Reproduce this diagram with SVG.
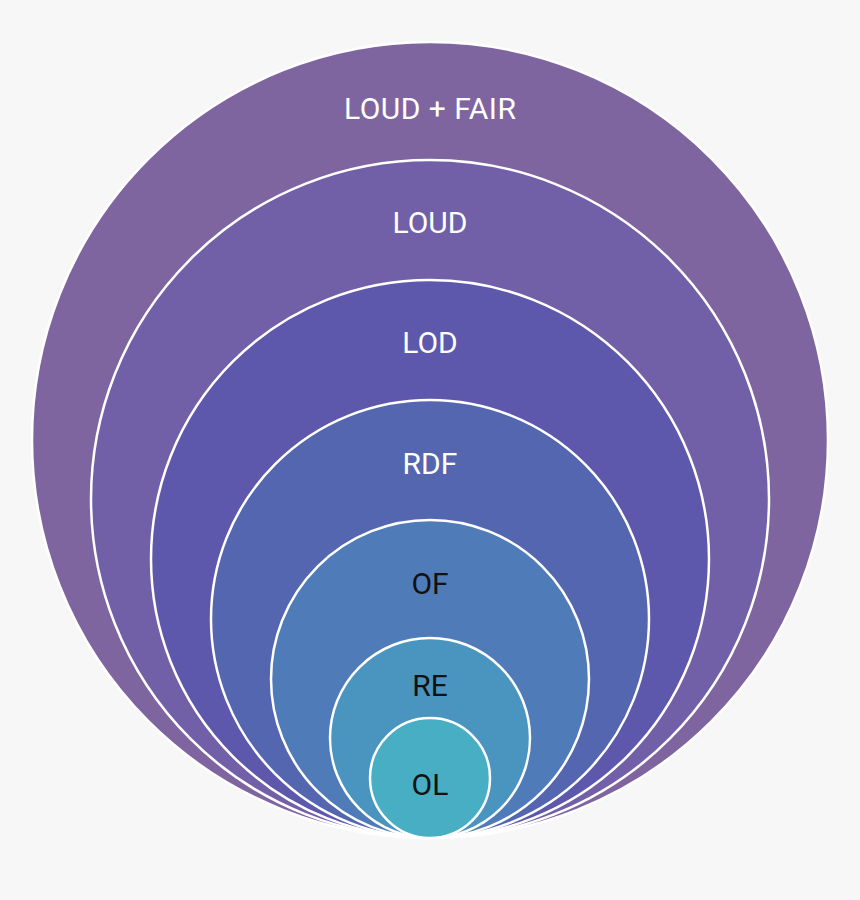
<svg xmlns="http://www.w3.org/2000/svg" width="860" height="900" viewBox="0 0 860 900">
<style>
circle{stroke:#fff;stroke-width:2.5}
text{font-family:Roboto,"Liberation Sans",sans-serif;font-size:30px;text-anchor:middle;dominant-baseline:central}
.w{fill:#fff}.k{fill:#111}
</style>
<rect width="860" height="900" fill="#f7f7f7"/>
<g id="n1"><circle cx="430" cy="440" r="398" fill="#7f65a0"/><text class="w" x="430" y="108" textLength="172">LOUD + FAIR</text></g>
<g id="n2"><circle cx="430" cy="499" r="339" fill="#7160a8"/><text class="w" x="430" y="222">LOUD</text></g>
<g id="n3"><circle cx="430" cy="559" r="279" fill="#5d58ac"/><text class="w" x="430" y="342">LOD</text></g>
<g id="n4"><circle cx="430" cy="619" r="219" fill="#5466b0"/><text class="w" x="430" y="463">RDF</text></g>
<g id="n5"><circle cx="430" cy="679" r="159" fill="#4f7cb8"/><text class="k" x="430" y="583">OF</text></g>
<g id="n6"><circle cx="430" cy="738" r="100" fill="#4a95c0"/><text class="k" x="430" y="685">RE</text></g>
<g id="n7"><circle cx="430" cy="778" r="60" fill="#47aec4"/><text class="k" x="430" y="784">OL</text></g>
<g id="connectors"/>
</svg>
